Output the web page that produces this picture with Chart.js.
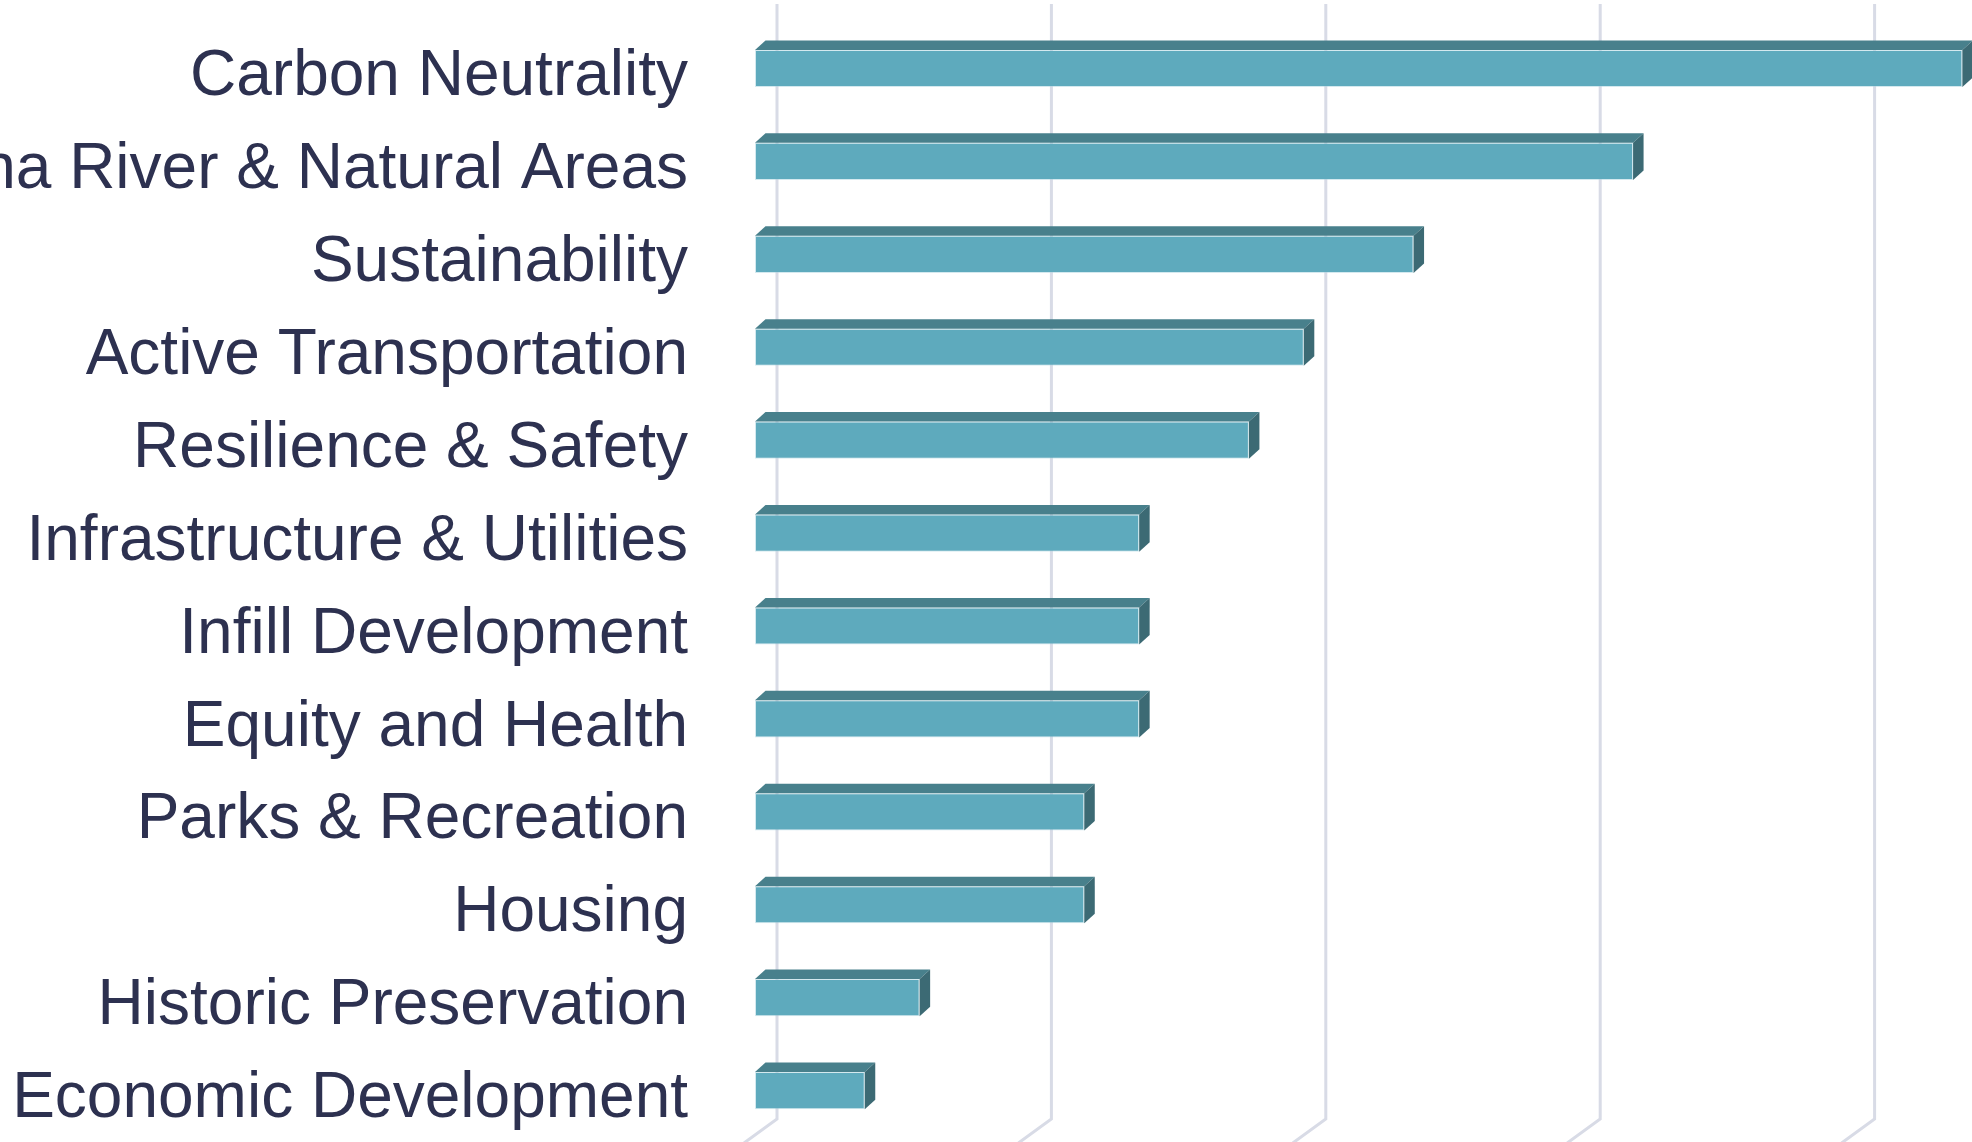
<!DOCTYPE html>
<html>
<head>
<meta charset="utf-8">
<title>Priorities</title>
<script src="https://cdn.jsdelivr.net/npm/chart.js@4.4.1/dist/chart.umd.min.js"></script>
<style>
  html, body { margin: 0; padding: 0; background: #fff; overflow: hidden; }
  #wrap { position: absolute; left: 0; top: 0; width: 2200px; height: 1142px; }
</style>
</head>
<body>
<div id="wrap"><canvas id="chart"></canvas></div>
<script>
const categories = [
  'Carbon Neutrality',
  'Santa Ana River & Natural Areas',
  'Sustainability',
  'Active Transportation',
  'Resilience & Safety',
  'Infrastructure & Utilities',
  'Infill Development',
  'Equity and Health',
  'Parks & Recreation',
  'Housing',
  'Historic Preservation',
  'Economic Development'
];
const responses = [22, 16, 12, 10, 9, 7, 7, 7, 6, 6, 3, 2];
const tickValues = [0, 5, 10, 15, 20, 25];

const FRONT = '#5eaabd';
const TOP = '#48808c';
const SIDE = '#3c6a74';
const GRID = '#d8dbe6';
const TEXT = '#2d3150';

// depth of the bars and of the back wall
const BAR_DX = 10.5, BAR_DY = 9.5;
const WALL_DX = 22;

const depthPlugin = {
  id: 'depth',
  beforeDatasetsDraw(chart) {
    const ctx = chart.ctx;
    const x = chart.scales.x;
    const area = chart.chartArea;
    const top = area.top - 18;
    const bottom = area.bottom - 18;
    ctx.save();
    ctx.strokeStyle = GRID;
    ctx.lineWidth = 3;
    tickValues.forEach((v) => {
      const px = x.getPixelForValue(v) + WALL_DX;
      ctx.beginPath();
      ctx.moveTo(px, top);
      ctx.lineTo(px, bottom);
      ctx.lineTo(px - 33, bottom + 24);
      ctx.stroke();
    });
    ctx.restore();
  },
  afterDatasetsDraw(chart) {
    const ctx = chart.ctx;
    const meta = chart.getDatasetMeta(0);
    ctx.save();
    meta.data.forEach((bar) => {
      const p = bar.getProps(['x', 'y', 'base', 'height'], true);
      const y0 = p.y - p.height / 2;
      const y1 = p.y + p.height / 2;
      // top face
      ctx.fillStyle = TOP;
      ctx.beginPath();
      ctx.moveTo(p.base, y0);
      ctx.lineTo(p.x, y0);
      ctx.lineTo(p.x + BAR_DX, y0 - BAR_DY);
      ctx.lineTo(p.base + BAR_DX, y0 - BAR_DY);
      ctx.closePath();
      ctx.fill();
      // side face
      ctx.fillStyle = SIDE;
      ctx.beginPath();
      ctx.moveTo(p.x, y0);
      ctx.lineTo(p.x + BAR_DX, y0 - BAR_DY);
      ctx.lineTo(p.x + BAR_DX, y1 - BAR_DY);
      ctx.lineTo(p.x, y1);
      ctx.closePath();
      ctx.fill();
    });
    ctx.restore();
  }
};

new Chart(document.getElementById('chart'), {
  type: 'bar',
  data: {
    labels: categories,
    datasets: [{
      data: responses,
      backgroundColor: FRONT,
      borderColor: 'rgba(170, 212, 224, 0.5)',
      borderWidth: 1,
      borderSkipped: false,
      categoryPercentage: 1,
      barPercentage: 0.4
    }]
  },
  options: {
    indexAxis: 'y',
    responsive: true,
    maintainAspectRatio: false,
    animation: false,
    layout: { padding: { top: 22, bottom: 5, left: 0, right: 73 } },
    plugins: {
      legend: { display: false },
      tooltip: { enabled: false }
    },
    scales: {
      x: {
        display: false,
        min: 0,
        max: 25
      },
      y: {
        grid: { display: false, drawTicks: false },
        border: { display: false },
        afterFit(scale) {
          scale.width = 755;
          scale.paddingTop = 0;
          scale.paddingBottom = 0;
        },
        ticks: {
          autoSkip: false,
          padding: 67,
          labelOffset: 9,
          color: TEXT,
          font: { family: '"Liberation Sans", Arial, sans-serif', size: 64 }
        }
      }
    }
  },
  plugins: [depthPlugin]
});
</script>
</body>
</html>
